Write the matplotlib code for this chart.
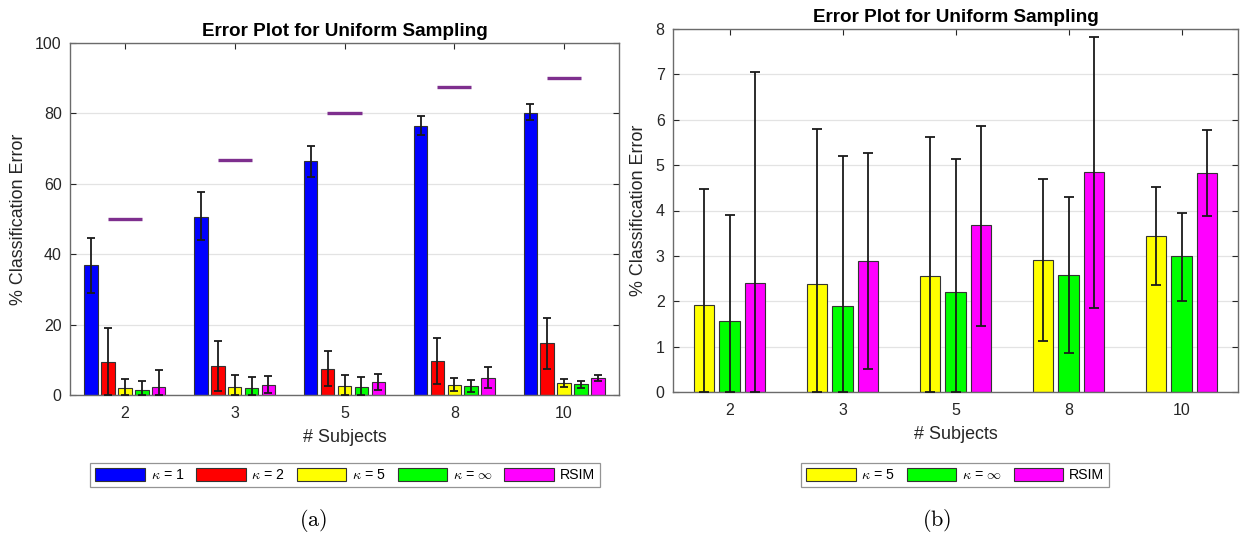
import numpy as np
import matplotlib as mpl
mpl.use("Agg")
import matplotlib.pyplot as plt

mpl.rcParams['font.family'] = ['Liberation Sans', 'DejaVu Sans']
mpl.rcParams['mathtext.fontset'] = 'cm'

# --- data ---
subjects = ["2", "3", "5", "8", "10"]
chance = [50.0, 66.7, 80.0, 87.5, 90.0]   # purple reference lines

k1_mean = [36.8, 50.7, 66.4, 76.5, 80.2]
k1_lo   = [29.0, 43.9, 61.8, 74.0, 78.1]
k1_hi   = [44.7, 57.7, 70.8, 79.3, 82.6]

k2_mean = [9.4, 8.2, 7.4, 9.7, 14.8]
k2_lo   = [0.0, 1.1, 2.5, 3.2, 7.4]
k2_hi   = [18.9, 15.4, 12.5, 16.2, 22.0]

k5_mean = [1.91, 2.37, 2.56, 2.91, 3.44]
k5_lo   = [0.0, 0.0, 0.0, 1.12, 2.35]
k5_hi   = [4.48, 5.79, 5.61, 4.70, 4.51]

kinf_mean = [1.56, 1.89, 2.21, 2.57, 2.99]
kinf_lo   = [0.0, 0.0, 0.0, 0.86, 2.00]
kinf_hi   = [3.90, 5.21, 5.14, 4.29, 3.95]

rsim_mean = [2.41, 2.89, 3.67, 4.85, 4.82]
rsim_lo   = [0.0, 0.51, 1.45, 1.85, 3.87]
rsim_hi   = [7.05, 5.27, 5.86, 7.82, 5.77]

SPINE = "#6b6b6b"
TXT   = "#262626"


def grouped_bars(ax, series, capsize):
    """MATLAB-style grouped bars with asymmetric error bars."""
    n = len(series)
    x = np.arange(1, len(subjects) + 1)
    gw = min(0.8, n / (n + 1.5))
    step = gw / n
    bw = 0.8 * step
    handles = []
    for i, (label, color, mean, lo, hi) in enumerate(series):
        mean = np.array(mean)
        xs = x + (i - (n - 1) / 2) * step
        h = ax.bar(xs, mean, width=bw, color=color, edgecolor="#333333",
                   linewidth=0.8, label=label, zorder=2)
        handles.append(h)
        yerr = [mean - np.array(lo), np.array(hi) - mean]
        ax.errorbar(xs, mean, yerr=yerr, fmt="none", ecolor="#1a1a1a",
                    elinewidth=1.3, capsize=capsize, capthick=1.3, zorder=3)
    return handles


def style_axes(ax, ylim, yticks):
    ax.set_xlim(0.5, 5.5)
    ax.set_ylim(*ylim)
    ax.set_xticks(np.arange(1, len(subjects) + 1))
    ax.set_xticklabels(subjects)
    ax.set_yticks(yticks)
    ax.yaxis.grid(True, color="#e3e3e3", linewidth=0.9, zorder=0)
    ax.set_axisbelow(True)
    ax.tick_params(direction="in", length=4, width=0.8, color=TXT,
                   top=True, right=True, labelsize=11.5, labelcolor=TXT, pad=6)
    ax.tick_params(axis="x", pad=8)
    for s in ax.spines.values():
        s.set_color(SPINE)
        s.set_linewidth(1.0)
    ax.set_xlabel("# Subjects", fontsize=12.9, color=TXT, labelpad=6)
    ax.set_ylabel("% Classification Error", fontsize=12.9, color=TXT, labelpad=6)
    ax.set_title("Error Plot for Uniform Sampling", fontsize=13.6,
                 fontweight="bold", pad=5)


fig = plt.figure(figsize=(12.42, 5.33), dpi=100)

# (a) all methods
ax1 = fig.add_axes([70 / 1242, 1 - 395 / 533, 549 / 1242, 352 / 533])
series_a = [
    (r"$\kappa$ = 1", "#0000ff", k1_mean, k1_lo, k1_hi),
    (r"$\kappa$ = 2", "#ff0000", k2_mean, k2_lo, k2_hi),
    (r"$\kappa$ = 5", "#ffff00", k5_mean, k5_lo, k5_hi),
    (r"$\kappa$ = $\infty$", "#00ff00", kinf_mean, kinf_lo, kinf_hi),
    ("RSIM", "#ff00ff", rsim_mean, rsim_lo, rsim_hi),
]
h1 = grouped_bars(ax1, series_a, capsize=2.6)
xg = np.arange(1, len(subjects) + 1)
ax1.hlines(chance, xg - 0.155, xg + 0.155, color="#7e2f8e", linewidth=2.4, zorder=4)
style_axes(ax1, (0, 100), np.arange(0, 101, 20))

# (b) zoom on the low-error methods
ax2 = fig.add_axes([673 / 1242, 1 - 392 / 533, 565 / 1242, 363 / 533])
series_b = series_a[2:]
h2 = grouped_bars(ax2, series_b, capsize=3.3)
style_axes(ax2, (0, 8), np.arange(0, 9, 1))

leg_kw = dict(loc="center", ncol=5, fontsize=10.2, frameon=True, fancybox=False,
              edgecolor="#7a7a7a", handlelength=3.5, handleheight=1.0,
              handletextpad=0.4, columnspacing=0.85, borderpad=0.35,
              borderaxespad=0)
lg1 = fig.legend(handles=h1, bbox_to_anchor=(345 / 1242, 1 - 475 / 533), **leg_kw)
lg2 = fig.legend(handles=h2, bbox_to_anchor=(955 / 1242, 1 - 475 / 533), **leg_kw)
for lg in (lg1, lg2):
    lg.get_frame().set_linewidth(0.9)

fig.text(313 / 1242, 1 - 520 / 533, r"$\mathrm{(a)}$", ha="center", va="center", fontsize=16)
fig.text(937 / 1242, 1 - 520 / 533, r"$\mathrm{(b)}$", ha="center", va="center", fontsize=16)

fig.savefig("out.png", dpi=100)
